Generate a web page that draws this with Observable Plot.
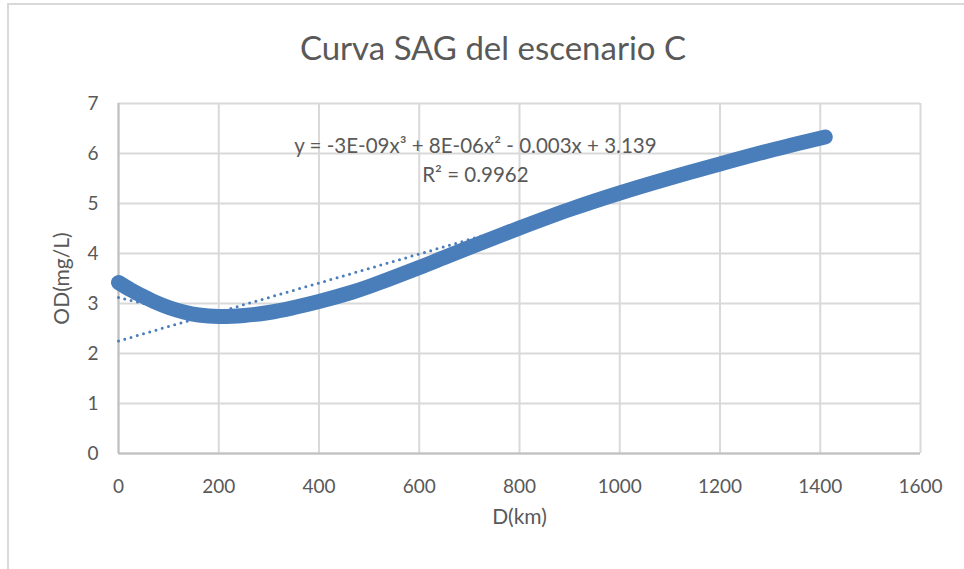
<!DOCTYPE html>
<html>
<head>
<meta charset="utf-8">
<script src="https://cdn.jsdelivr.net/npm/d3@7"></script>
<script src="https://cdn.jsdelivr.net/npm/@observablehq/plot@0.6"></script>
<style>
  html, body { margin: 0; padding: 0; background: #fff; }
  #wrap { position: relative; width: 964px; height: 569px; overflow: hidden; font-family: Lato, "Open Sans", sans-serif; }
  #border { position: absolute; left: 7px; top: 3px; width: 980px; height: 600px; border-left: 2px solid #d9d9d9; border-top: 2px solid #d9d9d9; box-sizing: border-box; pointer-events: none; }
  #title { position: absolute; left: 0; width: 986px; top: 27px; text-align: center; font-size: 33px; color: #595959; }
  #chart { position: absolute; left: 0; top: 0; }
</style>
</head>
<body>
<div id="wrap">
  <div id="chart"></div>
  <div id="border"></div>
  <div id="title">Curva SAG del escenario C</div>
</div>
<script>
// Observed series: dissolved oxygen vs distance
const distKm = [0, 25, 50, 75, 100, 130, 160, 200, 250, 300, 350, 400, 464, 500, 600, 650, 700, 800, 900, 1000, 1100, 1200, 1300, 1410];
const odMgL  = [3.42, 3.27, 3.14, 3.02, 2.92, 2.83, 2.77, 2.74, 2.76, 2.82, 2.92, 3.04, 3.22, 3.34, 3.72, 3.92, 4.12, 4.51, 4.88, 5.21, 5.51, 5.79, 6.06, 6.33];

// Polynomial trendline (dotted, mostly hidden under the data)
const polyX = [0, 100, 200, 300, 400, 500, 600, 700, 800, 900, 1000, 1100, 1200, 1300, 1410];
const polyY = [3.12, 2.90, 2.78, 2.83, 3.02, 3.33, 3.71, 4.11, 4.51, 4.88, 5.21, 5.51, 5.79, 6.05, 6.33];

// Linear trendline (dotted line starting at ~2.25)
const linX = [0, 1410];
const linY = [2.25, 6.34];

// Axis ticks
const xTicks = [0, 200, 400, 600, 800, 1000, 1200, 1400, 1600];
const yTicks = [0, 1, 2, 3, 4, 5, 6, 7];

const equationText = "y = -3E-09x³ + 8E-06x² - 0.003x + 3.139";
const r2Text = "R² = 0.9962";

const series = distKm.map((d, i) => ({x: d, y: odMgL[i]}));
const poly = polyX.map((d, i) => ({x: d, y: polyY[i]}));
const lin = linX.map((d, i) => ({x: d, y: linY[i]}));

const blue = "#4a7ebb";
const grid = "#d9d9d9";
const textCol = "#595959";

const plot = Plot.plot({
  width: 964,
  height: 569,
  marginLeft: 118,
  marginRight: 44,
  marginTop: 103,
  marginBottom: 116,
  style: {fontFamily: "Lato, 'Open Sans', sans-serif", fontSize: "19px", color: textCol, background: "transparent"},
  x: {domain: [0, 1600]},
  y: {domain: [0, 7]},
  marks: [
    Plot.gridX(xTicks, {stroke: grid, strokeOpacity: 1, strokeWidth: 2}),
    Plot.gridY(yTicks, {stroke: grid, strokeOpacity: 1, strokeWidth: 2}),
    Plot.ruleY([0], {stroke: "#bfbfbf", strokeWidth: 2}),
    Plot.ruleX([0], {stroke: "#bfbfbf", strokeWidth: 2}),
    Plot.axisX(xTicks, {tickSize: 0, tickPadding: 26, label: null, fill: textCol, fontSize: 19, tickFormat: d => String(d)}),
    Plot.axisY(yTicks, {tickSize: 0, tickPadding: 20, label: null, fill: textCol, fontSize: 19, tickFormat: d => String(d)}),
    Plot.line(lin, {x: "x", y: "y", stroke: blue, strokeWidth: 3, strokeDasharray: "0,6.5", strokeLinecap: "round"}),
    Plot.line(poly, {x: "x", y: "y", stroke: blue, strokeWidth: 3, strokeDasharray: "0,6.5", strokeLinecap: "round", curve: "catmull-rom"}),
    Plot.line(series, {x: "x", y: "y", stroke: blue, strokeWidth: 15, strokeLinecap: "round", strokeLinejoin: "round", curve: "catmull-rom"}),
    Plot.text([equationText], {x: 712, y: 6.14, text: d => d, fill: textCol, fontSize: 20.5, textAnchor: "middle"}),
    Plot.text([r2Text], {x: 712, y: 5.56, text: d => d, fill: textCol, fontSize: 20.5, textAnchor: "middle"}),
    Plot.text(["OD(mg/L)"], {frameAnchor: "left", dx: -56, text: d => d, rotate: -90, fill: textCol, fontSize: 21, textAnchor: "middle"}),
    Plot.text(["D(km)"], {frameAnchor: "bottom", dy: 70, text: d => d, fill: textCol, fontSize: 21, textAnchor: "middle"})
  ]
});
document.getElementById("chart").appendChild(plot);
</script>
</body>
</html>
